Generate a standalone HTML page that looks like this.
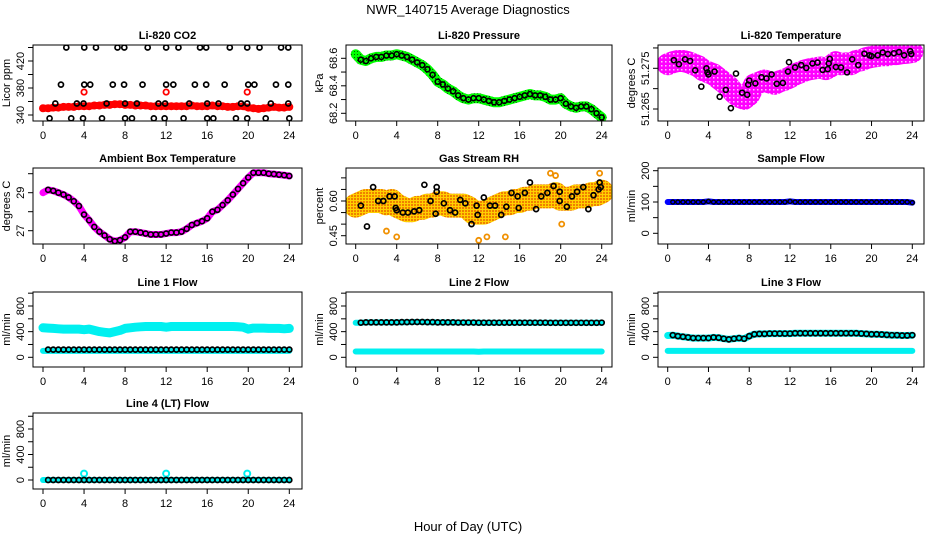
<!DOCTYPE html>
<html><head><meta charset="utf-8">
<style>
html,body{margin:0;padding:0;background:#fff;}
svg{display:block;font-family:"Liberation Sans",Arial,sans-serif;}
</style></head>
<body>
<svg id="chart" width="936" height="540" viewBox="0 0 936 540">
<defs>
<pattern id="pat-rh" width="3" height="3" patternUnits="userSpaceOnUse"><rect width="3" height="3" fill="#ffd000"/><rect width="2" height="2" fill="#f08000"/></pattern>
<pattern id="pat-mag" width="4" height="4" patternUnits="userSpaceOnUse"><rect width="4" height="4" fill="#ff00ff"/><rect x="1" y="1" width="1.5" height="1.5" fill="#ffc0ff"/></pattern>
<pattern id="pat-green" width="3" height="3" patternUnits="userSpaceOnUse"><rect width="3" height="3" fill="#00ff00"/><rect width="1" height="1" fill="#006000"/></pattern>
</defs>
<text x="468" y="14" text-anchor="middle" font-size="13">NWR_140715  Average Diagnostics</text>
<text x="468" y="531" text-anchor="middle" font-size="13">Hour of Day (UTC)</text>
</svg>
<script>
// ---------------- DATA ----------------
const hours = [0,0.5,1,1.5,2,2.5,3,3.5,4,4.5,5,5.5,6,6.5,7,7.5,8,8.5,9,9.5,10,10.5,11,11.5,12,12.5,13,13.5,14,14.5,15,15.5,16,16.5,17,17.5,18,18.5,19,19.5,20,20.5,21,21.5,22,22.5,23,23.5,24];
const xTicks = [0,4,8,12,16,20,24];

const co2Red = [350,350,351,351,352,352,352,353,353,353,354,354,355,355,356,356,355,355,354,354,354,353,353,353,353,353,353,353,353,354,353,353,353,354,353,353,352,352,353,353,351,350,349,350,351,352,351,351,352];
const co2RedOutX = [4.0,12.0,19.9];
const co2RedOutY = [374,374,374];
const co2BlackX = [2.27,4.02,5.16,7.26,7.92,10.2,12.0,13.2,15.3,15.9,18.2,19.9,21.1,23.2,23.9,
  1.75,4.02,4.6,6.8,7.9,9.7,12.0,12.7,14.8,15.9,17.7,20.0,20.6,22.7,23.9,
  1.2,3.3,3.95,6.2,8.0,9.15,11.25,11.9,14.25,16.0,17.1,19.3,19.9,22.2,23.9,
  0.64,2.75,3.9,5.75,8.0,8.67,10.8,11.85,13.7,16.0,16.6,18.8,19.9,21.7,24.0];
const co2BlackY = [440,440,440,440,440,440,440,440,440,440,440,440,440,440,440,
  385,385,385,385,385,385,385,385,385,385,385,385,385,385,385,
  357,357,357,357,357,357,357,357,357,357,357,357,357,357,357,
  335,335,335,335,335,335,335,335,335,335,335,335,335,335,335];

const pressure = [68.63,68.59,68.58,68.60,68.61,68.61,68.62,68.62,68.63,68.62,68.61,68.59,68.57,68.55,68.52,68.48,68.43,68.41,68.38,68.36,68.33,68.31,68.30,68.31,68.31,68.30,68.29,68.28,68.28,68.29,68.30,68.31,68.32,68.33,68.34,68.33,68.33,68.32,68.30,68.30,68.31,68.27,68.25,68.24,68.25,68.25,68.23,68.20,68.17];

const licorTemp = [51.2760,51.2765,51.2768,51.2768,51.2765,51.2760,51.2755,51.2745,51.2740,51.2735,51.2725,51.2715,51.2705,51.2690,51.2680,51.2675,51.2685,51.2710,51.2715,51.2720,51.2715,51.2712,51.2718,51.2722,51.2728,51.2735,51.2740,51.2745,51.2748,51.2750,51.2752,51.2748,51.2755,51.2765,51.2760,51.2762,51.2760,51.2768,51.2770,51.2775,51.2778,51.2780,51.2782,51.2782,51.2785,51.2785,51.2787,51.2788,51.2790];
const licorTempBlackX = [0.6,1.1,1.7,2.2,2.7,3.3,3.8,3.9,4.0,4.6,5.1,5.7,6.2,6.7,7.3,7.8,7.9,8.0,8.6,9.2,9.7,10.2,10.7,11.3,11.8,11.9,12.5,13.1,13.6,14.2,14.7,15.2,15.7,15.8,15.9,16.5,17.0,17.6,18.1,18.7,19.3,19.8,20.0,20.6,21.1,21.6,22.2,22.7,23.2,23.8,23.9];
const licorTempBlackY = [51.2770,51.2760,51.2772,51.2768,51.2745,51.2705,51.2750,51.2740,51.2735,51.2742,51.2680,51.2697,51.2652,51.2737,51.2690,51.2685,51.2710,51.2720,51.2713,51.2728,51.2725,51.2735,51.2712,51.2714,51.2742,51.2765,51.2752,51.2758,51.2751,51.2762,51.2764,51.2746,51.2748,51.2762,51.2773,51.2753,51.2752,51.2740,51.2772,51.2758,51.2786,51.2782,51.2780,51.2782,51.2789,51.2785,51.2787,51.2790,51.2782,51.2792,51.2785];

const boxTemp = [29.0,29.15,29.1,29.0,28.9,28.75,28.55,28.3,27.85,27.55,27.2,26.95,26.75,26.55,26.45,26.5,26.65,26.95,26.95,26.9,26.85,26.8,26.8,26.8,26.85,26.9,26.9,26.95,27.1,27.3,27.4,27.5,27.65,28.0,28.1,28.35,28.6,28.9,29.2,29.5,29.8,30.05,30.05,30.05,30.0,29.98,29.95,29.92,29.88];

const rhBand = [0.58,0.59,0.60,0.60,0.60,0.60,0.59,0.60,0.58,0.57,0.56,0.56,0.57,0.57,0.58,0.58,0.59,0.59,0.58,0.58,0.58,0.58,0.57,0.55,0.55,0.55,0.56,0.57,0.58,0.59,0.59,0.60,0.60,0.61,0.61,0.62,0.62,0.62,0.62,0.63,0.61,0.61,0.61,0.62,0.62,0.62,0.63,0.63,0.64];
const rhOutX = [3.0,4.0,12.0,12.8,14.6,19.0,19.5,20.1,23.8];
const rhOutY = [0.47,0.445,0.43,0.445,0.445,0.72,0.71,0.50,0.72];
const rhBlackX = [0.5,1.1,1.7,2.2,2.7,3.3,3.8,3.9,4.0,4.6,5.1,5.7,6.2,6.7,7.3,7.9,7.9,7.8,8.6,9.2,9.7,10.2,10.7,11.3,11.8,11.9,12.5,13.1,13.6,14.2,14.7,15.2,15.8,15.9,16.5,17.0,17.6,18.1,18.7,19.3,19.9,19.9,20.6,21.1,21.6,22.2,22.7,23.2,23.7,23.8,23.9];
const rhBlackY = [0.58,0.49,0.66,0.60,0.60,0.62,0.62,0.57,0.56,0.55,0.55,0.555,0.56,0.67,0.60,0.64,0.66,0.545,0.59,0.56,0.55,0.605,0.59,0.50,0.58,0.54,0.615,0.58,0.58,0.54,0.575,0.635,0.62,0.57,0.635,0.68,0.565,0.62,0.635,0.665,0.64,0.60,0.575,0.62,0.64,0.66,0.565,0.625,0.65,0.68,0.66];

const sampleFlow = [100,100,100,100,100,100,100,100,102,100,100,100,100,100,100,100,100,100,100,100,100,100,100,100,102,100,100,100,100,100,100,100,100,100,100,100,100,100,100,100,100,100,100,100,100,100,100,100,98];

const line1Upper = [460,455,450,445,440,440,440,440,430,440,420,400,390,380,400,420,450,460,470,475,480,480,480,480,470,480,480,480,480,480,480,480,480,480,480,480,480,480,475,470,440,455,455,455,450,450,450,445,450];
const line1Lower = [100,100,100,100,100,100,100,100,100,100,100,100,100,100,100,100,100,100,100,100,100,100,100,100,100,100,100,100,100,100,100,100,100,100,100,100,100,100,100,100,100,100,100,100,100,100,100,100,100];
const line1Black = [120,120,120,120,120,120,120,120,120,120,120,120,120,120,120,120,120,120,120,120,120,120,120,120,120,120,120,120,120,120,120,120,120,120,120,120,120,120,120,120,120,120,120,120,120,120,120,120,120];

const line2Upper = [540,540,545,545,545,545,545,545,545,548,548,550,550,550,548,548,545,545,545,545,542,542,542,542,540,540,540,540,540,540,540,540,540,540,540,540,540,540,538,538,538,538,538,538,538,538,538,538,540];
const line2Lower = [90,90,90,90,90,90,90,90,90,90,90,90,90,90,90,90,90,90,90,90,90,90,90,90,85,90,90,90,90,90,90,90,90,90,90,90,90,90,90,90,90,90,90,90,90,90,90,90,90];

const line3Upper = [340,345,330,320,310,300,300,300,300,310,305,290,280,290,300,290,330,360,365,365,370,370,370,370,370,375,375,375,375,375,375,375,375,375,375,375,375,375,370,365,360,360,355,350,345,345,340,340,345];
const line3Lower = [100,100,100,100,100,100,100,100,100,100,100,100,100,100,100,100,100,100,100,100,100,100,100,100,100,100,100,100,100,100,100,100,100,100,100,100,100,100,100,100,100,100,100,100,100,100,100,100,100];

const line4Flow = [0,0,0,0,0,0,0,0,0,0,0,0,0,0,0,0,0,0,0,0,0,0,0,0,0,0,0,0,0,0,0,0,0,0,0,0,0,0,0,0,0,0,0,0,0,0,0,0,0];
const line4OutX = [4.0,12.0,19.9];
const line4OutY = [100,100,100];

// ---------------- LAYOUT ----------------
const svg = document.getElementById('chart');
const NS = 'http://www.w3.org/2000/svg';
const cols = [
  {x0:33,x1:302,a:43,b:289.3},
  {x0:346,x1:612,a:355.7,b:601.7},
  {x0:658,x1:924,a:667.7,b:912.3}];
const rows = [{y0:45,y1:121},{y0:168,y1:244},{y0:292,y1:367},{y0:413,y1:489}];

function mk(tag, attrs, parent){
  const e = document.createElementNS(NS, tag);
  for (const k in attrs) e.setAttribute(k, attrs[k]);
  (parent||svg).appendChild(e);
  return e;
}

function panel(cfg){
  const c = cols[cfg.col], r = rows[cfg.row];
  const g = mk('g', {});
  
  
  const xs = h => c.a + (c.b - c.a) * h / 24;
  const ys = v => cfg.py0 + (cfg.py1 - cfg.py0) * (v - cfg.v0) / (cfg.v1 - cfg.v0);
  const clip = 'clip-' + cfg.name;
  const cp = mk('clipPath', {id: clip}, g);
  mk('rect', {x:c.x0, y:r.y0, width:c.x1-c.x0, height:r.y1-r.y0}, cp);
  const t = mk('text', {x:(c.x0+c.x1)/2, y:r.y0-6, 'text-anchor':'middle', 'font-size':11, 'font-weight':'bold'}, g);
  t.textContent = cfg.title;
  
  
  const xa = mk('g', {}, g);
  
  
  mk('line', {x1:xs(0), x2:xs(24), y1:r.y1, y2:r.y1, stroke:'#000'}, xa);
  xTicks.forEach(h => {
    mk('line', {x1:xs(h), x2:xs(h), y1:r.y1, y2:r.y1+5, stroke:'#000'}, xa);
    const tl = mk('text', {x:xs(h), y:r.y1+18, 'text-anchor':'middle', 'font-size':11}, xa);
    tl.textContent = h;
    
    
  });
  const ya = mk('g', {}, g);
  
  
  const tv = cfg.ticks;
  mk('line', {x1:c.x0, x2:c.x0, y1:ys(tv[0]), y2:ys(tv[tv.length-1]), stroke:'#000'}, ya);
  tv.forEach(v => {
    mk('line', {x1:c.x0-5, x2:c.x0, y1:ys(v), y2:ys(v), stroke:'#000'}, ya);
  });
  cfg.labels.forEach(v => {
    const lx = c.x0 - 9, ly = ys(v);
    const tl = mk('text', {x:lx, y:ly, 'text-anchor':'middle', 'font-size':11, transform:`rotate(-90 ${lx} ${ly})`}, ya);
    tl.textContent = cfg.fmt ? cfg.fmt(v) : v;
    
    
  });
  const yl = c.x0 - 23, ym = (r.y0 + r.y1) / 2;
  const yt = mk('text', {x:yl, y:ym, 'text-anchor':'middle', 'font-size':11, transform:`rotate(-90 ${yl} ${ym})`}, ya);
  yt.textContent = cfg.ylab;
  
  
  const sg = mk('g', {'clip-path':`url(#${clip})`}, g);
  cfg.series.forEach(s => {
    const grp = mk('g', {}, sg);
    
    
    const X = s.x || hours;
    if (s.band) {
      const pts = X.map((h,i) => xs(h).toFixed(1) + ',' + ys(s.y[i]).toFixed(1)).join(' ');
      const pl = mk('polyline', {points:pts, fill:'none', stroke:s.bandFill||s.color, 'stroke-width':s.band, 'stroke-linejoin':'round', 'stroke-linecap':'round'}, grp);
      
      
    }
    if (s.r) {
      X.forEach((h,i) => {
        if (s.skip && h < s.skip) return;
        const ci = mk('circle', {cx:xs(h), cy:ys(s.y[i]), r:s.r, fill:'none', stroke:s.stroke||s.color, 'stroke-width':s.sw||1.6}, grp);
        
        
      });
    }
  });
  const box = mk('rect', {x:c.x0, y:r.y0, width:c.x1-c.x0, height:r.y1-r.y0, fill:'none', stroke:'#000', 'stroke-width':1}, g);
  
  
}

const flowTicks = [0,200,400,600,800,1000], flowLabels = [0,400,800];
const cyan = '#00f0f0';

panel({name:'co2-panel', col:0,row:0,title:'Li-820 CO2', ylab:'Licor ppm', v0:340,py0:115,v1:420,py1:61,
  ticks:[340,360,380,400,420,440], labels:[340,380,420],
  series:[
    {name:'co2-red-band', y:co2Red, color:'#ff0000', band:7, r:3, sw:2},
    {name:'co2-red-outliers', x:co2RedOutX, y:co2RedOutY, color:'#ff0000', r:2.7, sw:1.8},
    {name:'co2-black-points', x:co2BlackX, y:co2BlackY, color:'#000', r:2.5, sw:1.7}]});

panel({name:'pressure-panel', col:1,row:0,title:'Li-820 Pressure', ylab:'kPa', v0:68.2,py0:113.3,v1:68.6,py1:58.3,
  ticks:[68.2,68.3,68.4,68.5,68.6], labels:[68.2,68.4,68.6], fmt:v=>v.toFixed(1),
  series:[
    {name:'pressure-green-band', y:pressure, color:'#00ff00', bandFill:'url(#pat-green)', band:10},
    {name:'pressure-black-points', y:pressure, color:'#000', r:2.5, sw:1.6, skip:0.4}]});

panel({name:'licor-temp-panel', col:2,row:0,title:'Li-820 Temperature', ylab:'degrees C', v0:51.265,py0:109,v1:51.275,py1:68.3,
  ticks:[51.265,51.27,51.275,51.28], labels:[51.265,51.275], fmt:v=>v.toFixed(3),
  series:[
    {name:'licor-temp-magenta-band', y:licorTemp, color:'#ff00ff', bandFill:'url(#pat-mag)', band:22},
    {name:'licor-temp-black-points', x:licorTempBlackX, y:licorTempBlackY, color:'#000', r:2.5, sw:1.6}]});

panel({name:'box-temp-panel', col:0,row:1,title:'Ambient Box Temperature', ylab:'degrees C', v0:27,py0:230.7,v1:29,py1:192.7,
  ticks:[27,28,29,30], labels:[27,29],
  series:[
    {name:'box-temp-magenta-band', y:boxTemp, color:'#ff00ff', band:7},
    {name:'box-temp-black-points', y:boxTemp, color:'#000', r:2.5, sw:1.6, skip:0.4}]});

panel({name:'rh-panel', col:1,row:1,title:'Gas Stream RH', ylab:'percent', v0:0.45,py0:235.7,v1:0.60,py1:201,
  ticks:[0.45,0.5,0.55,0.6,0.65,0.7], labels:[0.45,0.60], fmt:v=>v.toFixed(2),
  series:[
    {name:'rh-orange-band', y:rhBand, color:'#ffa000', bandFill:'url(#pat-rh)', band:24},
    {name:'rh-orange-outliers', x:rhOutX, y:rhOutY, color:'#f09000', r:2.5, sw:1.8},
    {name:'rh-black-points', x:rhBlackX, y:rhBlackY, color:'#000', r:2.5, sw:1.7}]});

panel({name:'sample-flow-panel', col:2,row:1,title:'Sample Flow', ylab:'ml/min', v0:0,py0:233.3,v1:200,py1:170.7,
  ticks:[0,50,100,150,200], labels:[0,100,200],
  series:[
    {name:'sample-flow-blue-band', y:sampleFlow, color:'#0000ff', band:6},
    {name:'sample-flow-black-points', y:sampleFlow, color:'#000', r:2, sw:1.4, skip:0.4}]});

panel({name:'line1-flow-panel', col:0,row:2,title:'Line 1 Flow', ylab:'ml/min', v0:0,py0:357.3,v1:800,py1:306,
  ticks:flowTicks, labels:flowLabels,
  series:[
    {name:'line1-cyan-upper', y:line1Upper, color:cyan, band:9},
    {name:'line1-cyan-lower', y:line1Lower, color:cyan, band:6},
    {name:'line1-black-points', y:line1Black, color:'#000', r:2.5, sw:1.7, skip:0.4}]});

panel({name:'line2-flow-panel', col:1,row:2,title:'Line 2 Flow', ylab:'ml/min', v0:0,py0:357.3,v1:800,py1:306,
  ticks:flowTicks, labels:flowLabels,
  series:[
    {name:'line2-cyan-lower', y:line2Lower, color:cyan, band:6},
    {name:'line2-cyan-upper', y:line2Upper, color:cyan, band:6},
    {name:'line2-black-points', y:line2Upper, color:'#000', r:2.5, sw:1.7, skip:0.4}]});

panel({name:'line3-flow-panel', col:2,row:2,title:'Line 3 Flow', ylab:'ml/min', v0:0,py0:357.3,v1:800,py1:306,
  ticks:flowTicks, labels:flowLabels,
  series:[
    {name:'line3-cyan-lower', y:line3Lower, color:cyan, band:6},
    {name:'line3-cyan-upper', y:line3Upper, color:cyan, band:7},
    {name:'line3-black-points', y:line3Upper, color:'#000', r:2.5, sw:1.7, skip:0.4}]});

panel({name:'line4-flow-panel', col:0,row:3,title:'Line 4 (LT) Flow', ylab:'ml/min', v0:0,py0:480,v1:800,py1:429,
  ticks:flowTicks, labels:flowLabels,
  series:[
    {name:'line4-cyan-band', y:line4Flow, color:cyan, band:6},
    {name:'line4-cyan-outliers', x:line4OutX, y:line4OutY, color:cyan, r:3, sw:2},
    {name:'line4-black-points', y:line4Flow, color:'#000', r:2.5, sw:1.7, skip:0.4}]});
</script>
</body></html>
